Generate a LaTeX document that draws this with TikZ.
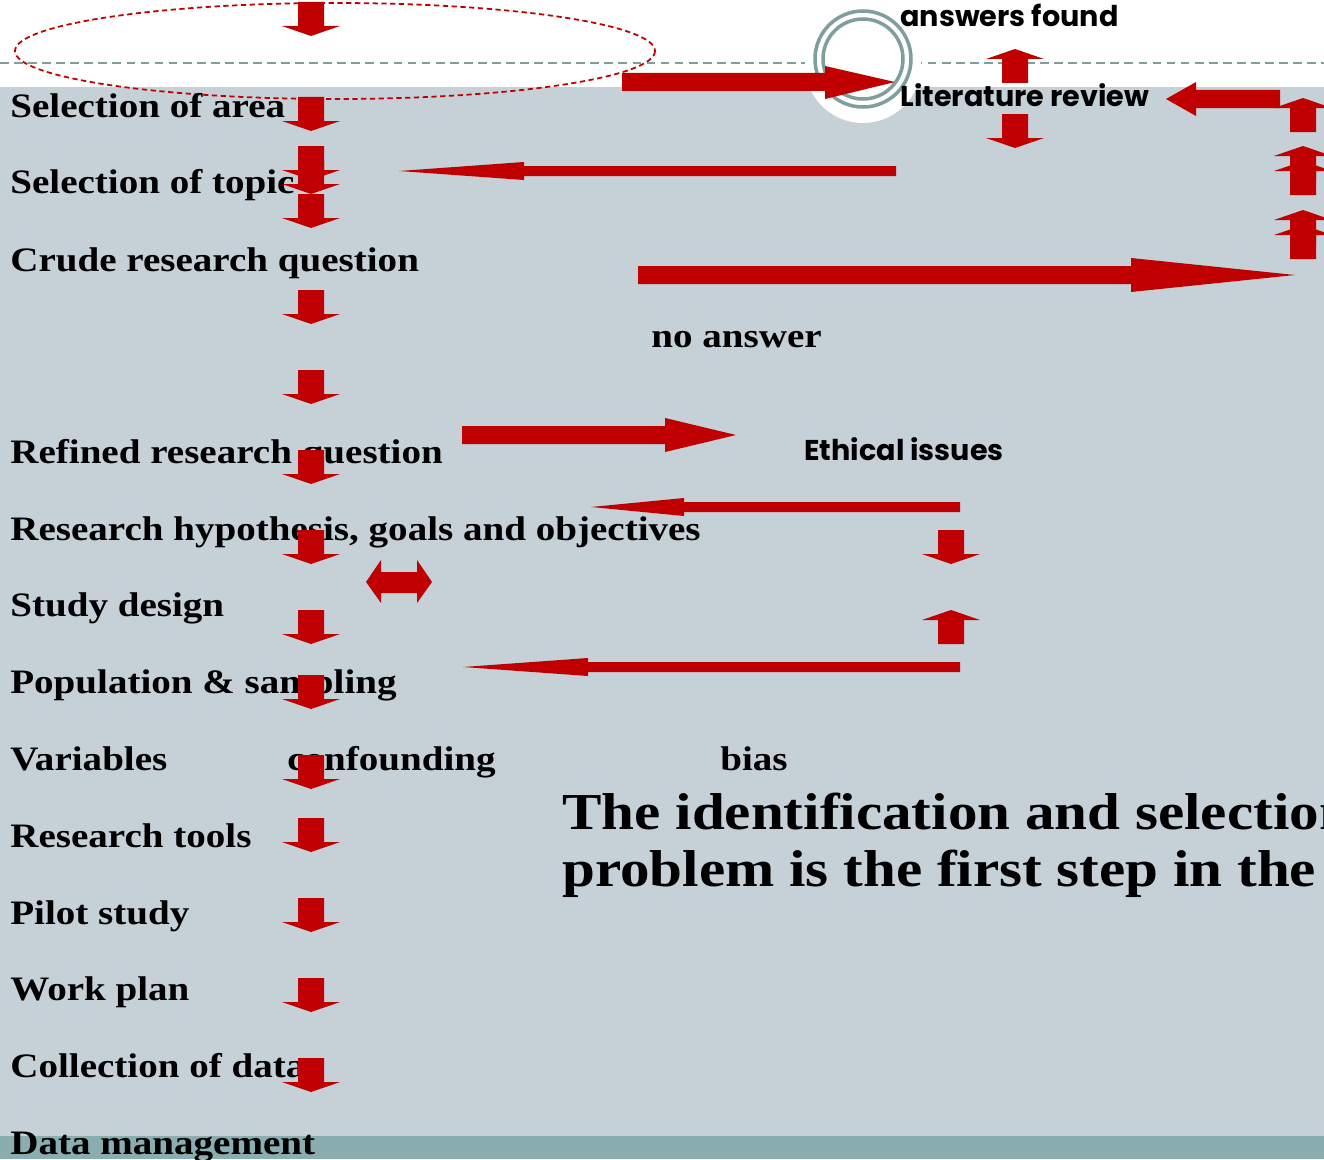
\documentclass[tikz,border=0pt]{standalone}
\usepackage{fontspec}
\setmainfont{Liberation Serif}[FakeStretch=1.14]
\newfontfamily\gothic{Poppins}
\usepackage{xcolor}
\definecolor{arrowred}{HTML}{C00000}
\definecolor{slidegrey}{HTML}{C5D0D7}
\definecolor{stripteal}{HTML}{8AAEAF}
\definecolor{ringteal}{HTML}{819E9E}
\usetikzlibrary{calc}

\begin{document}
\begin{tikzpicture}[
        x=0.02cm, y=-0.02cm,
        steplabel/.style={anchor=base west, inner sep=0pt, font=\fontsize{19.5}{23}\selectfont\bfseries},
        gothiclabel/.style={anchor=base west, inner sep=0pt, font=\gothic\fontsize{16.3}{19}\selectfont\bfseries},
        headline/.style={anchor=base west, inner sep=0pt, align=left, font=\fontsize{29.5}{32.3}\selectfont\bfseries},
        blockarrow/.style={fill=arrowred},
        downarr/.pic={\fill[blockarrow] (-13,0) -- (13,0) -- (13,24) -- (29,24) -- (0,34) -- (-29,24) -- (-13,24) -- cycle;},
        uparr/.pic={\fill[blockarrow] (-13,0) -- (13,0) -- (13,-24) -- (29,-24) -- (0,-34) -- (-29,-24) -- (-13,-24) -- cycle;}
    ]
    \useasboundingbox (0,0) rectangle (1324,1159);
    \clip (0,0) rectangle (1324,1159);

    % Slide background
    \fill[white] (0,0) rectangle (1324,87);
    \fill[slidegrey] (0,87) rectangle (1324,1136);
    \fill[stripteal] (0,1136) rectangle (1324,1159);
    \draw[ringteal, line width=1pt, dash pattern=on 5pt off 3pt] (0,63) -- (1324,63);

    % Title ornament
    \fill[white] (863,65) circle (58);
    \draw[arrowred, line width=1pt, dash pattern=on 3pt off 2pt] (335,51) ellipse (320 and 48);
    \draw[ringteal, line width=2pt] (863,59) circle (48);
    \draw[ringteal, line width=2pt] (863,59) circle (40);

    % Steps
    \node[steplabel] (area) at (10,117) {Selection of area};
    \node[steplabel] (topic) at (10,193) {Selection of topic};
    \node[steplabel] (crude) at (10,271) {Crude research question};
    \node[steplabel] (noanswer) at (651,347) {no answer};
    \node[steplabel] (refined) at (10,463) {Refined research question};
    \node[steplabel] (hypo) at (10,540) {Research hypothesis, goals and objectives};
    \node[steplabel] (design) at (10,616) {Study design};
    \node[steplabel] (popul) at (10,693) {Population \& sampling};
    \node[steplabel] (vars) at (10,770) {Variables};
    \node[steplabel] (confound) at (287,770) {confounding};
    \node[steplabel] (bias) at (720,770) {bias};
    \node[steplabel] (tools) at (10,847) {Research tools};
    \node[steplabel] (pilot) at (10,924) {Pilot study};
    \node[steplabel] (workplan) at (10,1000) {Work plan};
    \node[steplabel] (collect) at (10,1077) {Collection of data};
    \node[steplabel] (datamgmt) at (10,1154) {Data management};

    \node[gothiclabel] (found) at (900,27) {answers found};
    \node[gothiclabel] (litrev) at (900,107) {Literature review};
    \node[gothiclabel] (ethics) at (804,460) {Ethical issues};

    \node[headline] (claim) at (562,886) {The identification and selection\\problem is the first step in the r};

    % Main column of arrows
    \foreach \y in {2, 97, 146, 160, 194, 290, 370, 450, 530, 610, 675, 755, 818, 898, 978, 1058} {
        \pic at (311,\y) {downarr};
    }

    % Literature review loop
    \fill[blockarrow] (622,73) -- (825,73) -- (825,66) -- (895,82) -- (825,99) -- (825,91) -- (622,91) -- cycle;
    \pic at (1015,83) {uparr};
    \pic at (1015,114) {downarr};
    \fill[blockarrow] (1280,90) -- (1196,90) -- (1196,82) -- (1166,99) -- (1196,116) -- (1196,108) -- (1280,108) -- cycle;
    \foreach \y in {132, 180, 195, 244, 259} {
        \pic at (1303,\y) {uparr};
    }
    \fill[blockarrow] (896,166) -- (524,166) -- (524,162) -- (399,171) -- (524,180) -- (524,176) -- (896,176) -- cycle;
    \fill[blockarrow] (638,266) -- (1131,266) -- (1131,258) -- (1295,275) -- (1131,292) -- (1131,284) -- (638,284) -- cycle;

    % Ethical issues loop
    \fill[blockarrow] (462,426) -- (665,426) -- (665,418) -- (736,435) -- (665,452) -- (665,444) -- (462,444) -- cycle;
    \fill[blockarrow] (960,502) -- (684,502) -- (684,498) -- (591,507) -- (684,516) -- (684,512) -- (960,512) -- cycle;
    \pic at (951,530) {downarr};
    \pic at (951,644) {uparr};
    \fill[blockarrow] (960,662) -- (588,662) -- (588,658) -- (463,667) -- (588,676) -- (588,672) -- (960,672) -- cycle;

    % Design <-> hypothesis
    \fill[blockarrow] (366,582) -- (381,560) -- (381,572) -- (417,572) -- (417,560) -- (432,582) -- (417,603) -- (417,593) -- (381,593) -- (381,603) -- cycle;

\end{tikzpicture}
\end{document}
